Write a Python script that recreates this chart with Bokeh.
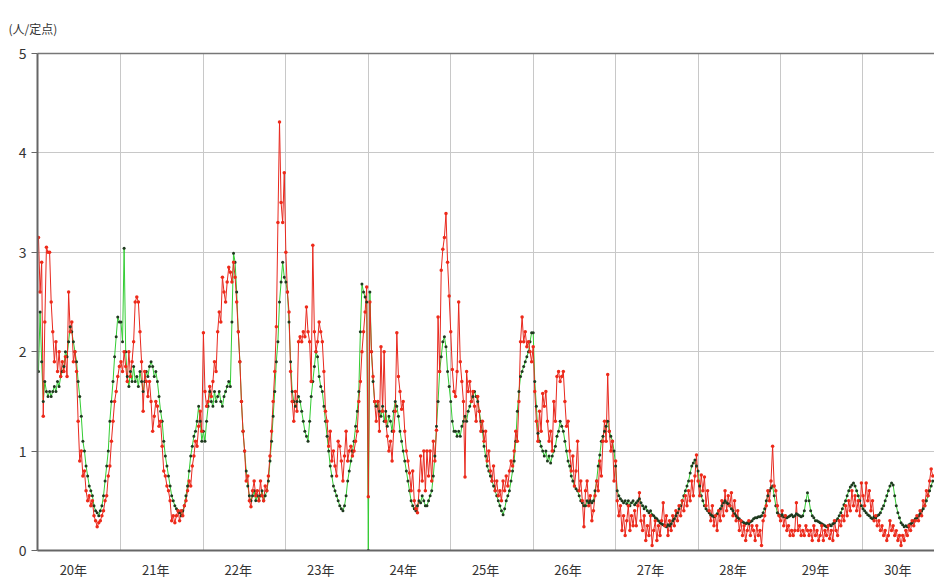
from bokeh.plotting import figure
from bokeh.models import FixedTicker, Range1d, LinearAxis
from bokeh.embed import file_html
from bokeh.resources import INLINE

# ---- data: weekly values per sentinel (人/定点), by year ----
years = [20, 21, 22, 23, 24, 25, 26, 27, 28, 29, 30]
year_labels = ["20年", "21年", "22年", "23年", "24年", "25年", "26年", "27年", "28年", "29年", "30年"]
y_ticks = [0, 1, 2, 3, 4, 5]
unit_label = "(人/定点)"

red_h20 = [3.15, 2.6, 2.9, 1.35, 2.3, 3.05, 3.0, 3.0, 2.5, 2.2, 1.9, 2.1, 1.8, 2.0, 1.75, 1.9, 1.8, 1.95, 1.75, 2.6, 2.2, 2.3, 1.9, 2.0, 1.8, 1.3, 0.9, 1.0, 0.75, 0.8, 0.6, 0.5, 0.55, 0.45, 0.5, 0.35, 0.3, 0.24, 0.28, 0.3, 0.35, 0.4, 0.5, 0.55, 0.75, 0.85, 1.1, 1.3, 1.5, 1.6, 1.75, 1.85]
red_h21 = [1.9, 1.8, 2.0, 1.85, 1.7, 2.0, 1.75, 1.9, 2.1, 2.5, 2.55, 2.5, 2.2, 1.9, 1.4, 1.8, 1.7, 1.55, 1.7, 1.5, 1.2, 1.35, 1.5, 1.45, 1.25, 1.3, 1.05, 0.8, 0.75, 0.65, 0.6, 0.5, 0.3, 0.35, 0.28, 0.35, 0.4, 0.3, 0.4, 0.35, 0.45, 0.5, 0.6, 0.7, 0.65, 0.85, 0.95, 1.1, 1.05, 1.25, 1.4, 1.2]
red_h22 = [2.19, 1.6, 1.45, 1.5, 1.65, 1.55, 1.7, 1.9, 1.8, 2.2, 2.4, 2.3, 2.75, 2.6, 2.5, 2.7, 2.85, 2.8, 2.7, 2.9, 2.75, 2.5, 2.2, 1.9, 1.5, 1.2, 1.0, 0.7, 0.75, 0.5, 0.44, 0.6, 0.7, 0.55, 0.6, 0.5, 0.7, 0.55, 0.5, 0.65, 0.6, 0.75, 0.95, 1.2, 1.5, 1.8, 2.25, 3.3, 4.31, 3.5, 3.3, 3.8]
red_h23 = [3.0, 2.6, 2.4, 1.8, 1.5, 1.3, 1.6, 1.4, 2.1, 2.15, 2.1, 2.2, 2.15, 2.45, 2.2, 2.1, 1.7, 3.07, 2.2, 2.0, 2.1, 2.3, 2.2, 2.1, 1.8, 1.4, 1.3, 1.05, 1.2, 0.9, 1.0, 0.85, 0.75, 1.1, 1.05, 0.9, 0.7, 0.95, 1.2, 0.9, 1.0, 1.05, 0.95, 1.0, 1.1, 1.2, 1.5, 1.7, 2.0, 2.2, 2.4, 2.65]
red_h24 = [0.54, 2.5, 2.0, 1.75, 1.5, 1.3, 1.5, 1.2, 2.05, 1.4, 2.0, 1.3, 1.15, 1.0, 1.1, 0.9, 1.2, 1.4, 2.19, 1.75, 1.6, 1.42, 1.5, 1.2, 1.0, 0.9, 0.78, 0.6, 0.8, 0.5, 0.42, 0.38, 0.6, 0.95, 0.7, 1.0, 0.6, 1.0, 0.75, 1.0, 0.7, 1.1, 0.9, 1.21, 2.35, 1.8, 2.82, 3.03, 3.15, 3.39, 2.9, 2.56]
red_h25 = [2.2, 1.82, 1.6, 1.55, 1.8, 2.5, 1.9, 1.7, 1.5, 0.74, 1.8, 1.6, 1.7, 1.5, 1.6, 1.45, 1.3, 1.55, 1.4, 1.2, 1.3, 1.1, 1.2, 0.9, 1.0, 0.8, 0.7, 0.85, 0.6, 0.7, 0.55, 0.6, 0.5, 0.7, 0.6, 0.75, 0.65, 0.8, 0.9, 0.85, 1.0, 1.2, 1.1, 1.5, 2.1, 2.35, 2.1, 2.2, 2.05, 2.1, 2.0, 1.9]
red_h26 = [2.05, 1.6, 1.3, 1.1, 1.4, 1.2, 1.58, 1.45, 1.6, 1.3, 1.1, 1.2, 1.0, 1.5, 1.3, 1.75, 1.8, 1.7, 1.75, 1.8, 1.5, 1.25, 1.3, 1.0, 0.8, 0.95, 0.65, 0.8, 1.1, 0.6, 0.7, 0.5, 0.24, 0.6, 0.7, 0.45, 0.55, 0.3, 0.4, 0.55, 0.7, 0.6, 0.9, 0.75, 1.1, 1.3, 1.1, 1.77, 1.2, 1.0, 1.1, 0.7]
red_h27 = [0.9, 0.5, 0.35, 0.45, 0.2, 0.35, 0.15, 0.3, 0.45, 0.2, 0.35, 0.25, 0.4, 0.25, 0.45, 0.58, 0.3, 0.2, 0.35, 0.1, 0.25, 0.15, 0.35, 0.05, 0.2, 0.3, 0.1, 0.25, 0.15, 0.3, 0.48, 0.25, 0.35, 0.15, 0.3, 0.2, 0.35, 0.25, 0.4, 0.3, 0.45, 0.35, 0.5, 0.4, 0.55, 0.45, 0.6, 0.5, 0.7, 0.55, 0.75, 0.96]
red_h28 = [0.7, 0.55, 0.76, 0.6, 0.74, 0.45, 0.6, 0.4, 0.3, 0.45, 0.25, 0.35, 0.2, 0.4, 0.3, 0.5, 0.35, 0.6, 0.4, 0.55, 0.45, 0.58, 0.35, 0.5, 0.3, 0.4, 0.2, 0.3, 0.15, 0.25, 0.1, 0.2, 0.3, 0.15, 0.25, 0.2, 0.1, 0.25, 0.15, 0.2, 0.05, 0.3, 0.35, 0.45, 0.6, 0.5, 0.7, 1.05, 0.65, 0.6, 0.45, 0.35]
red_h29 = [0.3, 0.4, 0.25, 0.35, 0.2, 0.25, 0.15, 0.2, 0.15, 0.2, 0.48, 0.2, 0.25, 0.15, 0.2, 0.15, 0.25, 0.2, 0.15, 0.2, 0.1, 0.25, 0.15, 0.2, 0.1, 0.15, 0.25, 0.1, 0.2, 0.15, 0.25, 0.12, 0.2, 0.1, 0.3, 0.2, 0.15, 0.3, 0.25, 0.35, 0.3, 0.45, 0.35, 0.5, 0.4, 0.6, 0.45, 0.55, 0.4, 0.5, 0.35, 0.68]
red_h30 = [0.55, 0.45, 0.68, 0.5, 0.6, 0.4, 0.5, 0.3, 0.35, 0.25, 0.3, 0.2, 0.25, 0.15, 0.2, 0.1, 0.15, 0.3, 0.2, 0.25, 0.15, 0.2, 0.1, 0.15, 0.05, 0.15, 0.1, 0.2, 0.15, 0.25, 0.2, 0.3, 0.25, 0.3, 0.35, 0.3, 0.4, 0.35, 0.5, 0.45, 0.6, 0.55, 0.7, 0.82, 0.75]

green_h20 = [1.8, 2.4, 1.9, 1.5, 1.7, 1.6, 1.55, 1.6, 1.55, 1.6, 1.65, 1.6, 1.7, 1.65, 1.75, 1.8, 1.85, 2.0, 1.95, 2.1, 2.25, 2.2, 2.1, 2.0, 1.9, 1.7, 1.55, 1.35, 1.1, 1.0, 0.85, 0.75, 0.65, 0.6, 0.55, 0.45, 0.4, 0.38, 0.35, 0.4, 0.45, 0.55, 0.7, 0.85, 1.0, 1.3, 1.5, 1.7, 1.95, 2.15, 2.35, 2.3]
green_h21 = [2.3, 2.1, 3.04, 2.0, 1.75, 1.65, 1.8, 1.7, 1.85, 1.7, 1.75, 1.65, 1.8, 1.7, 1.6, 1.7, 1.8, 1.75, 1.85, 1.9, 1.85, 1.75, 1.8, 1.7, 1.55, 1.4, 1.3, 1.1, 0.95, 0.85, 0.75, 0.65, 0.55, 0.5, 0.45, 0.42, 0.4, 0.38, 0.35, 0.4, 0.45, 0.55, 0.65, 0.8, 0.95, 1.05, 1.15, 1.2, 1.3, 1.45, 1.3, 1.1]
green_h22 = [1.2, 1.1, 1.3, 1.45, 1.6, 1.5, 1.45, 1.6, 1.5, 1.55, 1.6, 1.5, 1.45, 1.55, 1.6, 1.65, 1.7, 1.65, 2.3, 2.99, 2.9, 2.6, 2.2, 1.9, 1.5, 1.2, 1.0, 0.8, 0.65, 0.55, 0.5, 0.55, 0.6, 0.5, 0.55, 0.5, 0.55, 0.6, 0.5, 0.55, 0.6, 0.7, 0.9, 1.1, 1.35, 1.6, 1.9, 2.1, 2.5, 2.7, 2.9, 2.75]
green_h23 = [2.7, 2.6, 2.3, 1.9, 1.6, 1.5, 1.45, 1.5, 1.55, 1.5, 1.4, 1.3, 1.2, 1.15, 1.1, 1.3, 1.55, 1.7, 1.85, 2.0, 1.95, 1.75, 1.65, 1.6, 1.45, 1.3, 1.15, 1.0, 0.85, 0.75, 0.65, 0.6, 0.55, 0.5, 0.45, 0.42, 0.4, 0.45, 0.55, 0.7, 0.8, 0.9, 1.0, 1.1, 1.25, 1.4, 1.6, 2.2, 2.68, 2.6, 2.55, 2.5]
green_h24 = [0.0, 2.6, 2.0, 1.7, 1.5, 1.45, 1.5, 1.4, 1.35, 1.45, 1.3, 1.4, 1.25, 1.35, 1.3, 1.2, 1.4, 1.5, 1.45, 1.35, 1.2, 1.1, 1.0, 0.9, 0.8, 0.7, 0.6, 0.5, 0.45, 0.42, 0.4, 0.45, 0.5, 0.48, 0.55, 0.5, 0.45, 0.45, 0.5, 0.55, 0.6, 0.75, 0.95, 1.25, 1.5, 1.8, 1.95, 2.1, 2.15, 2.05, 1.8, 1.65]
green_h25 = [1.5, 1.3, 1.2, 1.2, 1.15, 1.2, 1.15, 1.25, 1.3, 1.35, 1.3, 1.4, 1.45, 1.5, 1.55, 1.6, 1.55, 1.5, 1.4, 1.3, 1.2, 1.05, 0.95, 0.85, 0.8, 0.75, 0.7, 0.65, 0.6, 0.55, 0.5, 0.45, 0.4, 0.36, 0.42, 0.5, 0.55, 0.6, 0.7, 0.8, 0.9, 1.1, 1.4, 1.6, 1.75, 1.8, 1.85, 1.9, 1.95, 2.0, 2.1, 2.19]
green_h26 = [2.19, 1.7, 1.45, 1.18, 1.1, 1.05, 1.0, 0.95, 1.0, 0.9, 0.95, 0.88, 0.95, 1.0, 1.05, 1.15, 1.2, 1.3, 1.25, 1.2, 1.1, 1.0, 0.9, 0.85, 0.75, 0.7, 0.65, 0.62, 0.6, 0.55, 0.5, 0.48, 0.45, 0.45, 0.5, 0.48, 0.5, 0.48, 0.5, 0.6, 0.7, 0.85, 0.96, 1.1, 1.15, 1.2, 1.25, 1.3, 1.2, 1.15, 1.1, 1.0]
green_h27 = [0.85, 0.6, 0.55, 0.52, 0.5, 0.48, 0.5, 0.47, 0.5, 0.45, 0.48, 0.5, 0.46, 0.48, 0.5, 0.52, 0.48, 0.45, 0.42, 0.44, 0.4, 0.38, 0.4, 0.36, 0.35, 0.33, 0.32, 0.3, 0.28, 0.27, 0.26, 0.25, 0.24, 0.26, 0.25, 0.27, 0.3, 0.32, 0.35, 0.38, 0.42, 0.45, 0.5, 0.55, 0.6, 0.65, 0.7, 0.78, 0.85, 0.88, 0.91, 0.85]
green_h28 = [0.8, 0.65, 0.55, 0.5, 0.45, 0.42, 0.4, 0.38, 0.36, 0.35, 0.34, 0.35, 0.37, 0.4, 0.42, 0.45, 0.48, 0.5, 0.48, 0.47, 0.45, 0.42, 0.4, 0.37, 0.35, 0.33, 0.32, 0.3, 0.29, 0.28, 0.27, 0.28, 0.27, 0.29, 0.3, 0.32, 0.33, 0.33, 0.34, 0.34, 0.35, 0.38, 0.42, 0.5, 0.55, 0.6, 0.63, 0.65, 0.55, 0.45, 0.38, 0.36]
green_h29 = [0.35, 0.36, 0.34, 0.35, 0.33, 0.34, 0.35, 0.36, 0.34, 0.35, 0.37, 0.36, 0.35, 0.34, 0.35, 0.4, 0.5, 0.58, 0.5, 0.4, 0.35, 0.33, 0.3, 0.3, 0.29, 0.28, 0.27, 0.26, 0.25, 0.24, 0.25, 0.26, 0.25, 0.27, 0.28, 0.3, 0.32, 0.35, 0.38, 0.42, 0.46, 0.5, 0.55, 0.6, 0.64, 0.66, 0.68, 0.65, 0.6, 0.55, 0.5, 0.45]
green_h30 = [0.42, 0.4, 0.38, 0.36, 0.35, 0.33, 0.32, 0.34, 0.33, 0.35, 0.36, 0.38, 0.42, 0.45, 0.5, 0.55, 0.6, 0.65, 0.68, 0.66, 0.55, 0.45, 0.38, 0.33, 0.28, 0.26, 0.24, 0.25, 0.24, 0.26, 0.27, 0.28, 0.3, 0.32, 0.33, 0.35, 0.37, 0.4, 0.42, 0.45, 0.5, 0.55, 0.6, 0.65, 0.7]

red_by_year = [red_h20, red_h21, red_h22, red_h23, red_h24, red_h25,
               red_h26, red_h27, red_h28, red_h29, red_h30]
green_by_year = [green_h20, green_h21, green_h22, green_h23, green_h24, green_h25,
                 green_h26, green_h27, green_h28, green_h29, green_h30]

WEEKS = 52


def flatten(series_by_year):
    xs, ys = [], []
    for k, vals in enumerate(series_by_year):
        for w, v in enumerate(vals):
            xs.append(k * WEEKS + w)
            ys.append(v)
    return xs, ys


red_x, red_y = flatten(red_by_year)
green_x, green_y = flatten(green_by_year)

FONT = "Noto Sans CJK JP"

p = figure(width=934, height=581, output_backend="svg", toolbar_location=None,
           x_range=Range1d(-0.63, 565.1), y_range=Range1d(0, 5),
           min_border_left=37, min_border_right=0, min_border_top=53,
           min_border_bottom=30, background_fill_color="white",
           border_fill_color="white")

p.title.text = unit_label
p.title.align = "left"
p.title.text_font = FONT
p.title.text_font_size = "12px"
p.title.text_font_style = "normal"
p.title.text_color = "#333333"
p.title.offset = -29
p.title.standoff = 34

p.outline_line_color = None

# grid
p.xgrid.ticker = FixedTicker(ticks=[k * WEEKS for k in range(1, len(years))])
p.xgrid.grid_line_color = "#c8c8c8"
p.ygrid.grid_line_color = "#c8c8c8"

# y axis
p.yaxis.ticker = FixedTicker(ticks=y_ticks)
p.yaxis.axis_line_color = "#666666"
p.yaxis.axis_line_width = 2
p.yaxis.major_tick_line_color = "#666666"
p.yaxis.major_tick_out = 6
p.yaxis.major_tick_in = 0
p.yaxis.minor_tick_line_color = None
p.yaxis.major_label_text_font = FONT
p.yaxis.major_label_text_font_size = "14px"
p.yaxis.major_label_text_color = "#333333"
p.yaxis.major_label_standoff = 5

# x axis (bottom): labels centred in each year
bottom = p.below[0]
label_ticks = [k * WEEKS + 22 for k in range(len(years))]
bottom.ticker = FixedTicker(ticks=label_ticks)
bottom.major_label_overrides = {t: lab for t, lab in zip(label_ticks, year_labels)}
bottom.axis_line_color = "#666666"
bottom.axis_line_width = 2
bottom.major_tick_line_color = None
bottom.minor_tick_line_color = None
bottom.major_label_text_font = FONT
bottom.major_label_text_font_size = "13px"
bottom.major_label_text_color = "#333333"
bottom.major_label_standoff = 3

# top border line (axis without ticks or labels)
top_axis = LinearAxis(axis_line_color="#777777", axis_line_width=1.5,
                      major_tick_line_color=None, minor_tick_line_color=None,
                      ticker=FixedTicker(ticks=[]))
p.add_layout(top_axis, "above")

# series
p.line(green_x, green_y, line_color="#33cc33", line_width=1)
p.line(red_x, red_y, line_color="#e8281e", line_width=1)
p.scatter(green_x, green_y, size=3, fill_color="#1f3a1f", line_color=None)
p.scatter(red_x, red_y, size=3.5, fill_color="#ee2a1a", line_color=None)

open("out.html", "w").write(file_html(p, INLINE))
